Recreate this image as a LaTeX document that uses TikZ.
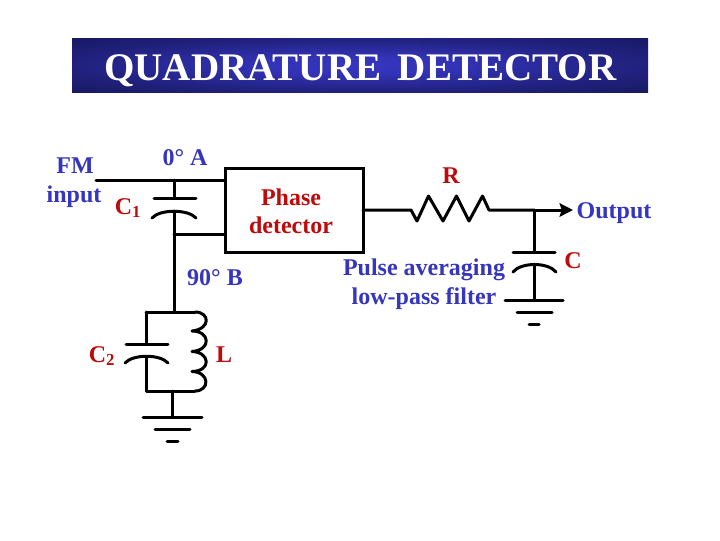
\documentclass[tikz,border=0pt]{standalone}
\usepackage{fontspec}
\setmainfont{Liberation Serif}
\usetikzlibrary{arrows.meta}
\definecolor{labblue}{HTML}{3535BE}
\definecolor{labred}{HTML}{BE0A0A}
\pgfdeclareradialshading{bannershade}{\pgfpoint{0bp}{0bp}}{%
  rgb(0bp)=(0.21,0.21,0.75);
  rgb(8bp)=(0.20,0.20,0.72);
  rgb(24bp)=(0.13,0.13,0.50);
  rgb(34bp)=(0.10,0.10,0.40);
  rgb(100bp)=(0.10,0.10,0.40)}
\tikzset{
  wire/.style={draw=black,line width=2.25pt,line cap=round,line join=round},
  bluelab/.style={text=labblue,font=\fontsize{18}{20}\selectfont\bfseries,anchor=base,inner sep=0pt},
  redlab/.style={text=labred,font=\fontsize{18}{20}\selectfont\bfseries,anchor=base,inner sep=0pt},
  blockbox/.style={draw=black,line width=2.25pt,minimum width=103.5pt,minimum height=63pt,inner sep=0pt,outer sep=0pt},
}
\begin{document}
\begin{tikzpicture}[x=0.75pt,y=-0.75pt]
\useasboundingbox (0,0) rectangle (720,540);
\fill[white] (0,0) rectangle (720,540);
% banner
\shade[shading=bannershade] (72,38) rectangle (648,92);
\node[anchor=base west,inner sep=0pt,text=white,font=\fontsize{29.3}{32}\selectfont\bfseries] (title) at (104,80) {QUADRATURE\hspace{12.5pt}DETECTOR};
% block
\node[blockbox,anchor=north west] (pd) at (225,168) {};
\node[redlab] (pha) at (291,205) {Phase};
\node[redlab] (det) at (291,233) {detector};
% coordinates
\coordinate (in) at (96,180);
\coordinate (a) at (174,180);
\coordinate (c1t) at (174,198);
\coordinate (c1b) at (174,211);
\coordinate (b) at (174,234);
\coordinate (t) at (174,312);
\coordinate (tl) at (146,312);
\coordinate (c2t) at (146,344);
\coordinate (c2b) at (146,357);
\coordinate (bl) at (146,391);
\coordinate (g1) at (172,391);
\coordinate (g2) at (172,417);
\coordinate (lt) at (195,312);
\coordinate (lb) at (195,391);
\coordinate (rin) at (411,210);
\coordinate (rout) at (489,210);
\coordinate (j) at (534,210);
\coordinate (out) at (573,210);
\coordinate (ct) at (534,252);
\coordinate (cb) at (534,264);
\coordinate (cg) at (534,300);
% wires
\draw[wire] (in) -- (a) -- (a -| pd.west);
\draw[wire] (a) -- (c1t);
\draw[wire] (154,198) -- (196,198);
\draw[wire] (152,218) .. controls (160,209) and (188,209) .. (196,218);
\draw[wire] (c1b) -- (t);
\draw[wire] (b) -- (b -| pd.west);
\draw[wire] (tl) -- (lt);
\draw[wire] (tl) -- (c2t);
\draw[wire] (126,344) -- (168,344);
\draw[wire] (125,363) .. controls (133,354) and (160,354) .. (168,363);
\draw[wire] (c2b) -- (bl) -- (lb);
\draw[wire] (g1) -- (g2);
\draw[wire] (143,417) -- (202,417);
\draw[wire] (155,429.5) -- (190,429.5);
\draw[wire] (167,441.5) -- (178,441.5);
% inductor
\draw[wire] (lt) .. controls (210,312) and (211,329) .. (192,331)
  .. controls (210,331) and (212,350) .. (192,351.5)
  .. controls (210,352) and (212,371) .. (192,371.5)
  .. controls (210,372) and (210,391) .. (lb);
% resistor & output
\draw[wire] (pd.east |- rin) -- (rin) -- (417,221) -- (428.5,196) -- (443,221) -- (456.5,196) -- (469,221) -- (482.5,196) -- (rout) -- (j);
\draw[wire,-{Stealth[length=10pt,width=10pt,inset=1.5pt]}] (j) -- (out);
\draw[wire] (j) -- (ct);
\draw[wire] (513,252) -- (555,252);
\draw[wire] (513,272) .. controls (521,262) and (548,262) .. (556,272);
\draw[wire] (cb) -- (cg);
\draw[wire] (505,300) -- (563,300);
\draw[wire] (517,312) -- (552,312);
\draw[wire] (529,324) -- (539,324);
% labels
\node[bluelab] (fm) at (75,173) {FM};
\node[bluelab] (inp) at (74,202) {input};
\node[bluelab] (zero) at (185,165) {0° A};
\node[redlab] (cone) at (128,214) {C\textsubscript{1}};
\node[bluelab] (ninety) at (215,285) {90° B};
\node[redlab] (ctwo) at (102,362) {C\textsubscript{2}};
\node[redlab] (ll) at (224,362) {L};
\node[redlab] (rr) at (451,183) {R};
\node[bluelab] (op) at (614,218) {Output};
\node[redlab] (cc) at (573,268) {C};
\node[bluelab] (pa) at (424,275) {Pulse averaging};
\node[bluelab] (lp) at (424,304) {low-pass filter};
\end{tikzpicture}
\end{document}
